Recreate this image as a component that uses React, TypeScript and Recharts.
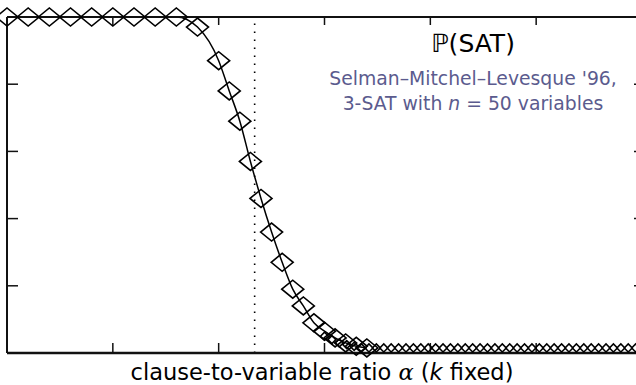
import {
  ComposedChart,
  Line,
  Scatter,
  XAxis,
  YAxis,
  ReferenceLine,
} from "recharts";

// main curve (large diamonds)
const ratioMain = [
  2.0, 2.2, 2.4, 2.6, 2.8, 3.0, 3.2, 3.4, 3.6, 3.8, 4.0, 4.1, 4.2, 4.3, 4.4,
  4.5, 4.6, 4.7, 4.8, 4.9, 5.0, 5.1, 5.2, 5.3, 5.4,
];
const probMain = [
  1, 1, 1, 1, 1, 1, 1, 1, 1, 0.97, 0.87, 0.78, 0.69, 0.57, 0.46, 0.36, 0.27,
  0.19, 0.14, 0.09, 0.065, 0.045, 0.03, 0.02, 0.015,
];

// tail of small diamonds along the bottom
const ratioTail = [
  5.0, 5.07, 5.14, 5.21, 5.28, 5.35, 5.42, 5.49, 5.56, 5.63, 5.7, 5.77, 5.84,
  5.91, 5.98, 6.05, 6.12, 6.19, 6.26, 6.33, 6.4, 6.47, 6.54, 6.61, 6.68, 6.75,
  6.82, 6.89, 6.96, 7.03, 7.1, 7.17, 7.24, 7.31, 7.38, 7.45, 7.52, 7.59, 7.66,
  7.73, 7.8, 7.87, 7.94,
];
const probTail = [
  0.05, 0.04, 0.03, 0.025, 0.02, 0.015, 0.015, 0.015, 0.015, 0.015, 0.015,
  0.015, 0.015, 0.015, 0.015, 0.015, 0.015, 0.015, 0.015, 0.015, 0.015, 0.015,
  0.015, 0.015, 0.015, 0.015, 0.015, 0.015, 0.015, 0.015, 0.015, 0.015, 0.015,
  0.015, 0.015, 0.015, 0.015, 0.015, 0.015, 0.015, 0.015, 0.015, 0.015,
];

const xTicks = [2, 3, 4, 5, 6, 7, 8];
const yTicks = [0, 0.2, 0.4, 0.6, 0.8, 1];
const thresholdRatio = 4.34;

const mainData = ratioMain.map((x, i) => ({ x, p: probMain[i] }));
const tailData = ratioTail.map((x, i) => ({ x, p: probTail[i] }));

const SANS = "'DejaVu Sans', sans-serif";
const NOTE = "#5b5b8e";

function BigDiamond(props: any) {
  const { cx, cy } = props;
  if (cx == null || cy == null) return <g />;
  const w = 11;
  const h = 9;
  return (
    <path
      d={`M${cx - w},${cy}L${cx},${cy - h}L${cx + w},${cy}L${cx},${cy + h}Z`}
      fill="none"
      stroke="#000"
      strokeWidth={1.6}
    />
  );
}

function SmallDiamond(props: any) {
  const { cx, cy } = props;
  if (cx == null || cy == null) return <g />;
  const s = 4;
  return (
    <path
      d={`M${cx - s},${cy}L${cx},${cy - s}L${cx + s},${cy}L${cx},${cy + s}Z`}
      fill="none"
      stroke="#000"
      strokeWidth={1.6}
    />
  );
}

// ticks only, no labels
const noLabel = () => <g />;

const frame = { stroke: "#111", strokeWidth: 2 };
const tickStyle = { stroke: "#111", strokeWidth: 1.5 };

export default function App() {
  return (
    <div
      style={{
        position: "absolute",
        left: 0,
        top: 0,
        width: 636,
        height: 385,
        overflow: "hidden",
        background: "#fff",
      }}
    >
      <ComposedChart
        width={645}
        height={385}
        margin={{ top: 17, right: 3, left: 7, bottom: 32 }}
      >
        <XAxis
          xAxisId="b"
          dataKey="x"
          type="number"
          domain={[2, 8]}
          ticks={xTicks}
          height={1}
          mirror
          tick={noLabel}
          tickSize={10}
          axisLine={{ stroke: "#111", strokeWidth: 2.6 }}
          tickLine={tickStyle}
        />
        <XAxis
          xAxisId="t"
          orientation="top"
          dataKey="x"
          type="number"
          domain={[2, 8]}
          ticks={xTicks}
          height={1}
          mirror
          tick={noLabel}
          tickSize={8}
          axisLine={frame}
          tickLine={tickStyle}
        />
        <YAxis
          yAxisId="l"
          type="number"
          domain={[0, 1]}
          ticks={yTicks}
          width={1}
          mirror
          tick={noLabel}
          tickSize={11}
          axisLine={frame}
          tickLine={tickStyle}
        />
        <YAxis
          yAxisId="r"
          orientation="right"
          type="number"
          domain={[0, 1]}
          ticks={yTicks}
          width={1}
          mirror
          tick={noLabel}
          tickSize={8}
          axisLine={frame}
          tickLine={tickStyle}
        />
        <ReferenceLine
          xAxisId="b"
          yAxisId="l"
          x={thresholdRatio}
          stroke="#000"
          strokeWidth={1.6}
          strokeDasharray="1.6 6.4"
        />
        <Scatter
          xAxisId="b"
          yAxisId="l"
          data={tailData}
          dataKey="p"
          shape={SmallDiamond}
          isAnimationActive={false}
        />
        <Line
          xAxisId="b"
          yAxisId="l"
          data={mainData}
          dataKey="p"
          type="monotone"
          stroke="#000"
          strokeWidth={1.5}
          dot={BigDiamond}
          activeDot={false}
          isAnimationActive={false}
        />
        <Line
          xAxisId="t"
          yAxisId="r"
          data={mainData}
          dataKey="p"
          stroke="none"
          dot={false}
          activeDot={false}
          legendType="none"
          isAnimationActive={false}
        />
        <text
          x={473}
          y={52}
          textAnchor="middle"
          fontFamily={SANS}
          fontSize={25}
          fill="#000"
        >
          ℙ(SAT)
        </text>
        <text
          x={473}
          y={85}
          textAnchor="middle"
          fontFamily={SANS}
          fontSize={18.8}
          fill={NOTE}
        >
          Selman–Mitchel–Levesque '96,
        </text>
        <text
          x={473}
          y={110}
          textAnchor="middle"
          fontFamily={SANS}
          fontSize={18.8}
          fill={NOTE}
        >
          3-SAT with <tspan fontStyle="italic">n</tspan> = 50 variables
        </text>
        <text
          x={322}
          y={380}
          textAnchor="middle"
          fontFamily={SANS}
          fontSize={22.5}
          fill="#000"
        >
          clause-to-variable ratio{" "}
          <tspan fontFamily="'DejaVu Serif', serif" fontStyle="italic">
            α
          </tspan>{" "}
          (<tspan fontStyle="italic">k</tspan> fixed)
        </text>
      </ComposedChart>
    </div>
  );
}
